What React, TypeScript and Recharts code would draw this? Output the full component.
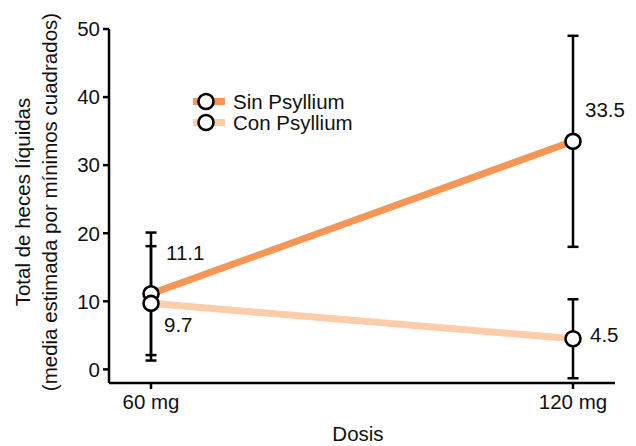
import { ErrorBar, Label, Legend, Line, LineChart, XAxis, YAxis } from "recharts";

const DOSES = ["60 mg", "120 mg"];
const SIN_MEANS = [11.1, 33.5];
const SIN_ERRORS = [9.0, 15.5];
const CON_MEANS = [9.7, 4.5];
const CON_ERRORS = [8.4, 5.8];
const Y_TICKS = [0, 10, 20, 30, 40, 50];
const SERIES_NAMES = ["Sin Psyllium", "Con Psyllium"];

const SIN_COLOR = "#f69656";
const CON_COLOR = "#fdccaa";
const INK = "#111";
const FONT = "'Liberation Sans', Arial, sans-serif";
const FS = 20.5;

// label placement next to each point, [dx, dy] from the point centre
const LABEL_OFFSETS: Record<string, number[][]> = {
  sin: [
    [15, -34],
    [12, -24],
  ],
  con: [
    [13, 29],
    [17, 3],
  ],
};

const rows = DOSES.map((dose, i) => ({
  dose,
  sin: SIN_MEANS[i],
  sinErr: SIN_ERRORS[i],
  con: CON_MEANS[i],
  conErr: CON_ERRORS[i],
}));

const dotStyle = { r: 7.5, fill: "#fff", stroke: "#000", strokeWidth: 2.6 };

function valueLabel(key: string) {
  return (props: any) => {
    const { x, y, value, index } = props;
    const [dx, dy] = LABEL_OFFSETS[key][index] ?? [10, 0];
    return (
      <text key={`${key}-${index}`} x={x + dx} y={y + dy} fontSize={FS} fill={INK} textAnchor="start">
        {value}
      </text>
    );
  };
}

function LegendBox() {
  const colors = [SIN_COLOR, CON_COLOR];
  return (
    <div style={{ display: "flex", flexDirection: "column" }}>
      {SERIES_NAMES.map((name, i) => (
        <div key={name} style={{ display: "flex", alignItems: "center", height: 21 }}>
          <svg width={32} height={21} style={{ display: "block" }}>
            <line x1={0} x2={32} y1={10.5} y2={10.5} stroke={colors[i]} strokeWidth={7} />
            <circle cx={13} cy={10.5} r={7.5} fill="#fff" stroke="#000" strokeWidth={2.6} />
          </svg>
          <span style={{ fontSize: FS, marginLeft: 8, color: INK, lineHeight: "21px" }}>{name}</span>
        </div>
      ))}
    </div>
  );
}

function YTitle(props: any) {
  const vb = props.viewBox ?? { x: 0, y: 29, width: 109, height: 354 };
  const cy = vb.y + vb.height / 2 - 4;
  return (
    <g fill={INK} fontSize={FS} textAnchor="middle">
      <text x={29.5} y={cy} transform={`rotate(-90, 29.5, ${cy})`}>
        Total de heces líquidas
      </text>
      <text x={56.5} y={cy} transform={`rotate(-90, 56.5, ${cy})`}>
        (media estimada por mínimos cuadrados)
      </text>
    </g>
  );
}

function XTitle(props: any) {
  const vb = props.viewBox ?? { x: 109, y: 383, width: 506, height: 63 };
  return (
    <text x={vb.x + vb.width / 2 - 4} y={441} fill={INK} fontSize={FS} textAnchor="middle">
      Dosis
    </text>
  );
}

export default function App() {
  return (
    <div
      style={{
        position: "absolute",
        left: 0,
        top: 0,
        width: 636,
        height: 446,
        background: "#fff",
        fontFamily: FONT,
      }}
    >
      <LineChart width={636} height={446} data={rows} margin={{ top: 29, right: 21, bottom: 0, left: 0 }}>
        <XAxis
          dataKey="dose"
          height={63}
          padding={{ left: 42, right: 42 }}
          stroke="#000"
          strokeWidth={2.5}
          tickSize={6}
          tickMargin={5}
          tick={{ fontSize: FS, fill: INK }}
        >
          <Label content={<XTitle />} />
        </XAxis>
        <YAxis
          width={109}
          domain={[-2, 50]}
          ticks={Y_TICKS}
          allowDataOverflow
          stroke="#000"
          strokeWidth={2.5}
          tickSize={6}
          tickMargin={3}
          tick={{ fontSize: FS, fill: INK }}
        >
          <Label content={<YTitle />} />
        </YAxis>
        <Legend
          layout="vertical"
          align="center"
          verticalAlign="middle"
          content={<LegendBox />}
          wrapperStyle={{ left: 193, top: 91, width: "auto" }}
        />
        <Line
          key="sin-line"
          dataKey="sin"
          stroke={SIN_COLOR}
          strokeWidth={7}
          dot={false}
          activeDot={false}
          legendType="none"
          isAnimationActive={false}
        >
          <ErrorBar dataKey="sinErr" width={5.5} stroke="#000" strokeWidth={2.5} direction="y" isAnimationActive={false} />
        </Line>
        <Line
          key="con-line"
          dataKey="con"
          stroke={CON_COLOR}
          strokeWidth={7}
          dot={false}
          activeDot={false}
          legendType="none"
          isAnimationActive={false}
        >
          <ErrorBar dataKey="conErr" width={5.5} stroke="#000" strokeWidth={2.5} direction="y" isAnimationActive={false} />
        </Line>
        <Line
          key="sin-dots"
          dataKey="sin"
          name={SERIES_NAMES[0]}
          stroke="none"
          dot={dotStyle}
          activeDot={false}
          label={valueLabel("sin")}
          isAnimationActive={false}
        />
        <Line
          key="con-dots"
          dataKey="con"
          name={SERIES_NAMES[1]}
          stroke="none"
          dot={dotStyle}
          activeDot={false}
          label={valueLabel("con")}
          isAnimationActive={false}
        />
      </LineChart>
    </div>
  );
}
